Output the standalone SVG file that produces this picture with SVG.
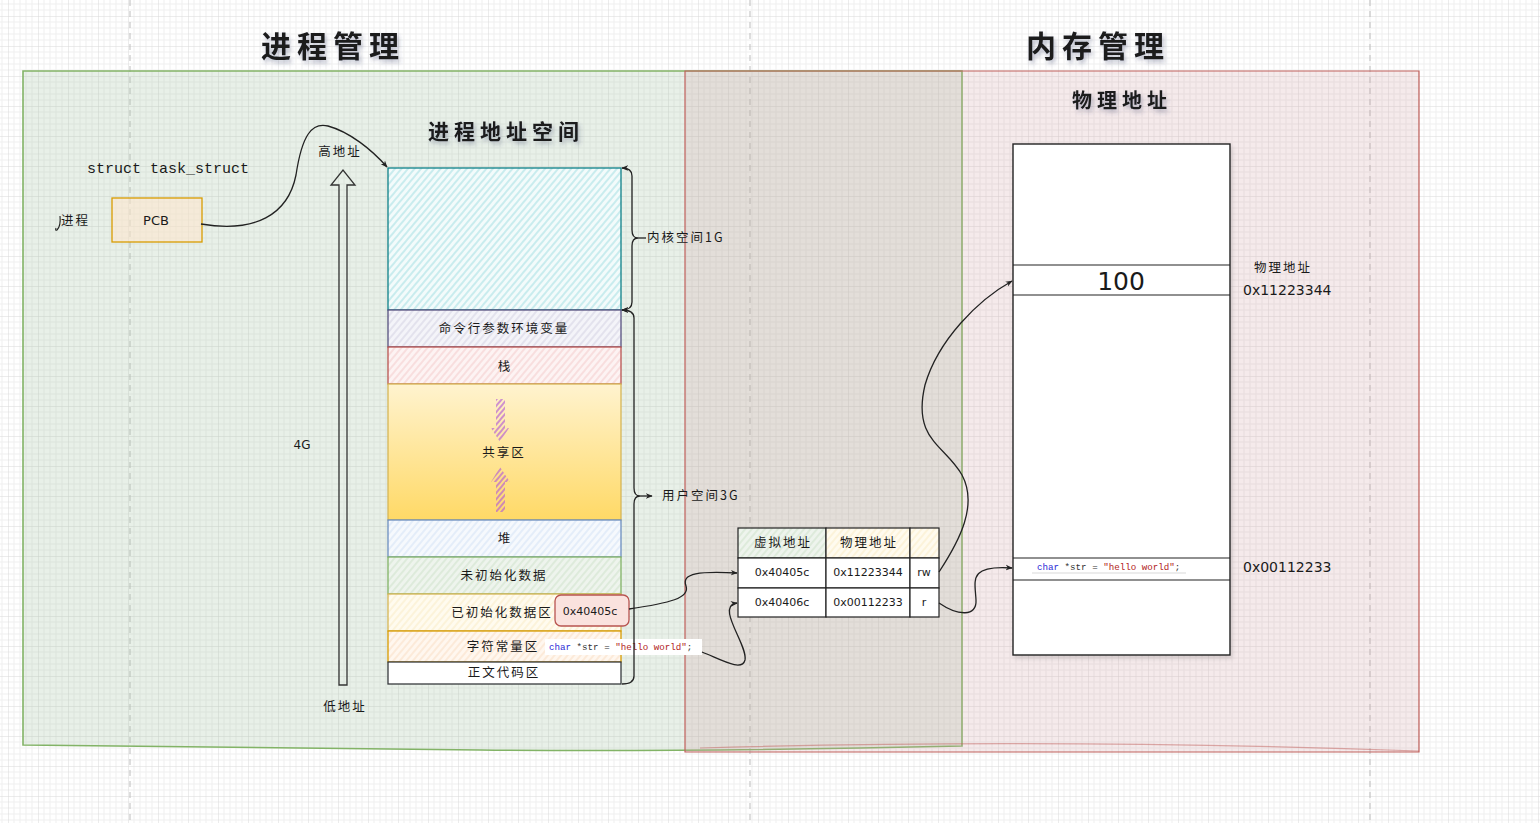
<svg xmlns="http://www.w3.org/2000/svg" width="1540" height="823" viewBox="0 0 1540 823">
<style>
.cjk{font-family:"Noto Sans CJK SC","Noto Sans",sans-serif;fill:#1a1a1a}
.title{font-size:30px;font-weight:700;letter-spacing:6px;filter:url(#tshadow)}
.sub{font-size:20px;font-weight:700;letter-spacing:5px;filter:url(#tshadow)}
.lbl{font-size:12.5px;letter-spacing:2px}
.mono{font-family:"Liberation Mono","DejaVu Sans Mono",monospace}
.sans{font-family:"DejaVu Sans","Liberation Sans",sans-serif;fill:#1a1a1a}
.seg{stroke-width:1.3}
.conn{fill:none;stroke:#222;stroke-width:1.3}
.cell{stroke:#222;stroke-width:1.2}
</style>
<defs>
<pattern id="grid" x="8" y="16" width="30" height="30" patternUnits="userSpaceOnUse">
<path d="M6 0V30M12 0V30M18 0V30M24 0V30M0 6H30M0 12H30M0 18H30M0 24H30" stroke="#efefef" stroke-width="1" fill="none"/>
<path d="M0 0V30M0 0H30" stroke="#d9d9d9" stroke-width="1" fill="none"/>
</pattern>
<pattern id="hCyan" width="5" height="5" patternUnits="userSpaceOnUse" patternTransform="rotate(40)"><rect width="5" height="5" fill="#f3fbfb"/><line x1="1" y1="0" x2="1" y2="5" stroke="#bfe9eb" stroke-width="1.6"/></pattern>
<pattern id="hLav" width="5" height="5" patternUnits="userSpaceOnUse" patternTransform="rotate(40)"><rect width="5" height="5" fill="#f4f4f9"/><line x1="1" y1="0" x2="1" y2="5" stroke="#dcdbe9" stroke-width="1.4"/></pattern>
<pattern id="hRed" width="5" height="5" patternUnits="userSpaceOnUse" patternTransform="rotate(40)"><rect width="5" height="5" fill="#fdf3f3"/><line x1="1" y1="0" x2="1" y2="5" stroke="#f7d6d5" stroke-width="1.4"/></pattern>
<pattern id="hBlue" width="5" height="5" patternUnits="userSpaceOnUse" patternTransform="rotate(40)"><rect width="5" height="5" fill="#f6f9fd"/><line x1="1" y1="0" x2="1" y2="5" stroke="#dde8f8" stroke-width="1.4"/></pattern>
<pattern id="hGreen" width="5" height="5" patternUnits="userSpaceOnUse" patternTransform="rotate(40)"><rect width="5" height="5" fill="#eef4ed"/><line x1="1" y1="0" x2="1" y2="5" stroke="#d7e7d4" stroke-width="1.4"/></pattern>
<pattern id="hYel" width="5" height="5" patternUnits="userSpaceOnUse" patternTransform="rotate(40)"><rect width="5" height="5" fill="#fffbef"/><line x1="1" y1="0" x2="1" y2="5" stroke="#fbf0d2" stroke-width="1.4"/></pattern>
<pattern id="hOra" width="5" height="5" patternUnits="userSpaceOnUse" patternTransform="rotate(40)"><rect width="5" height="5" fill="#fff7ef"/><line x1="1" y1="0" x2="1" y2="5" stroke="#fbe5d0" stroke-width="1.4"/></pattern>
<pattern id="hPur" width="4" height="4" patternUnits="userSpaceOnUse" patternTransform="rotate(40)"><line x1="1" y1="0" x2="1" y2="4" stroke="#b35ed6" stroke-width="1.3"/></pattern>
<linearGradient id="gShare" x1="0" y1="0" x2="0" y2="1"><stop offset="0" stop-color="#fff3cf"/><stop offset="1" stop-color="#ffd966"/></linearGradient>
<filter id="tshadow" x="-10%" y="-30%" width="130%" height="170%"><feDropShadow dx="2" dy="3" stdDeviation="2" flood-color="#3a3f6a" flood-opacity="0.35"/></filter>
<filter id="bshadow" x="-5%" y="-5%" width="110%" height="110%"><feDropShadow dx="2" dy="3" stdDeviation="2" flood-color="#000" flood-opacity="0.12"/></filter>
<marker id="arr" viewBox="0 0 10 10" refX="9" refY="5" markerWidth="7" markerHeight="7" orient="auto-start-reverse" markerUnits="userSpaceOnUse"><path d="M0 1 L10 5 L0 9 L3 5 z" fill="#222"/></marker>
</defs>

<rect width="1540" height="823" fill="#ffffff"/>
<rect width="1540" height="823" fill="url(#grid)"/>
<g id="page-breaks" stroke="#bdbdbd" stroke-width="1" stroke-dasharray="6 5">
<line x1="130" y1="0" x2="130" y2="823"/>
<line x1="750" y1="0" x2="750" y2="823"/>
<line x1="1370" y1="0" x2="1370" y2="823"/>
</g>

<g id="process-mgmt-container">
<path d="M23 71 L962 71 L962 746 Q700 752 480 750 Q250 748 23 745 Z" fill="#9fbf9f" fill-opacity="0.24" stroke="#82b366" stroke-width="1.6"/>
</g>
<g id="memory-mgmt-container">
<path d="M685 71 L1419 71 L1419 752 L685 752 Z" fill="#d0a0a5" fill-opacity="0.22" stroke="#c0605c" stroke-width="1.2"/>
<path d="M700 748 Q1050 738 1419 751" fill="none" stroke="#c0605c" stroke-opacity="0.5" stroke-width="1.2"/>
</g>

<g id="titles">
<text class="cjk title" x="333" y="57" text-anchor="middle">进程管理</text>
<text class="cjk title" x="1098" y="57" text-anchor="middle">内存管理</text>
<text class="cjk sub" x="1122" y="108" text-anchor="middle">物理地址</text>
<text class="cjk sub" x="506" y="139" text-anchor="middle" style="font-size:21px">进程地址空间</text>
</g>

<g id="task-struct-label">
<text class="mono" x="168" y="173" text-anchor="middle" font-size="15" fill="#1a1a1a">struct task_struct</text>
</g>
<g id="process-label">
<path d="M60 216 Q61 226 57 230 Q55 231 56 228" fill="none" stroke="#222" stroke-width="1.1"/>
<text class="cjk lbl" x="61" y="225" font-size="13">进程</text>
</g>
<g id="pcb">
<rect x="112" y="198" width="90" height="44" fill="#ffe6cc" fill-opacity="0.55" stroke="#d79b00" stroke-width="1.3"/>
<text class="sans" x="156" y="225" text-anchor="middle" font-size="13">PCB</text>
</g>

<g id="addr-arrow">
<polygon points="339,685 339,185 331,185 343,170 355,185 347,185 347,685" fill="none" stroke="#333" stroke-width="1.3"/>
<text class="cjk lbl" x="340" y="156" text-anchor="middle" font-size="12">高地址</text>
<text class="cjk lbl" x="345" y="711" text-anchor="middle" font-size="12">低地址</text>
<text class="sans" x="302" y="449" text-anchor="middle" font-size="12" fill="#333">4G</text>
</g>

<g id="address-space">
<g id="seg-kernel"><rect x="388" y="168" width="233" height="142" fill="url(#hCyan)" stroke="#0e8088" class="seg"/></g>
<g id="seg-env"><rect x="388" y="310" width="233" height="37" fill="url(#hLav)" stroke="#56517e" class="seg"/><text class="cjk lbl" x="504" y="333" text-anchor="middle">命令行参数环境变量</text></g>
<g id="seg-stack"><rect x="388" y="347" width="233" height="37" fill="url(#hRed)" stroke="#b85450" class="seg"/><text class="cjk lbl" x="505" y="371" text-anchor="middle">栈</text></g>
<g id="seg-shared"><rect x="388" y="384" width="233" height="136" fill="url(#gShare)" stroke="#d6b656" class="seg"/>
<polygon points="496,399 505,399 505,428 509,428 500,442 491,428 496,428" fill="url(#hPur)"/>
<polygon points="500,467 510,482 505,482 505,512 496,512 496,482 491,482" fill="url(#hPur)"/>
<text class="cjk lbl" x="504" y="457" text-anchor="middle">共享区</text></g>
<g id="seg-heap"><rect x="388" y="520" width="233" height="37" fill="url(#hBlue)" stroke="#6c8ebf" class="seg"/><text class="cjk lbl" x="505" y="543" text-anchor="middle">堆</text></g>
<g id="seg-bss"><rect x="388" y="557" width="233" height="37" fill="url(#hGreen)" stroke="#82b366" class="seg"/><text class="cjk lbl" x="504" y="580" text-anchor="middle">未初始化数据</text></g>
<g id="seg-data"><rect x="388" y="594" width="233" height="37" fill="url(#hYel)" stroke="#d6b656" class="seg"/><text class="cjk lbl" x="502" y="617" text-anchor="middle">已初始化数据区</text></g>
<g id="seg-rodata"><rect x="388" y="631" width="233" height="31" fill="url(#hOra)" stroke="#d79b00" class="seg"/><text class="cjk lbl" x="503" y="651" text-anchor="middle">字符常量区</text></g>
<g id="seg-text"><rect x="388" y="662" width="233" height="22" fill="#ffffff" stroke="#36393d" class="seg"/><text class="cjk lbl" x="504" y="677" text-anchor="middle">正文代码区</text></g>
</g>

<g id="var-addr-box">
<rect x="555" y="595" width="74" height="31" rx="6" fill="#fae2de" stroke="#b85450" stroke-width="1.3"/>
<text class="sans" x="590" y="615" text-anchor="middle" font-size="11">0x40405c</text>
</g>
<g id="code-left">
<rect x="545" y="639" width="157" height="16" fill="#ffffff"/>
<text class="mono" x="549" y="650" font-size="9.2" fill="#333"><tspan fill="#2a2ad6">char</tspan> *str = <tspan fill="#b22222">"hello world"</tspan>;</text>
</g>

<g id="brace-labels">
<text class="cjk lbl" x="647" y="242" font-size="12">内核空间1G</text>
<text class="cjk lbl" x="662" y="500" font-size="12">用户空间3G</text>
</g>

<g id="page-table">
<rect x="738" y="528" width="88" height="30" fill="url(#hGreen)" class="cell"/>
<rect x="826" y="528" width="84" height="30" fill="url(#hYel)" class="cell"/>
<rect x="910" y="528" width="29" height="30" fill="url(#hYel)" class="cell"/>
<rect x="738" y="558" width="88" height="30" fill="#fff" class="cell"/>
<rect x="826" y="558" width="84" height="30" fill="#fff" class="cell"/>
<rect x="910" y="558" width="29" height="30" fill="#fff" class="cell"/>
<rect x="738" y="588" width="88" height="29" fill="#fff" class="cell"/>
<rect x="826" y="588" width="84" height="29" fill="#fff" class="cell"/>
<rect x="910" y="588" width="29" height="29" fill="#fff" class="cell"/>
<text class="cjk lbl" x="783" y="547" text-anchor="middle" font-size="12">虚拟地址</text>
<text class="cjk lbl" x="869" y="547" text-anchor="middle" font-size="12">物理地址</text>
<text class="sans" x="782" y="576" text-anchor="middle" font-size="11">0x40405c</text>
<text class="sans" x="868" y="576" text-anchor="middle" font-size="11">0x11223344</text>
<text class="sans" x="924" y="576" text-anchor="middle" font-size="11">rw</text>
<text class="sans" x="782" y="606" text-anchor="middle" font-size="11">0x40406c</text>
<text class="sans" x="868" y="606" text-anchor="middle" font-size="11">0x00112233</text>
<text class="sans" x="924" y="606" text-anchor="middle" font-size="11">r</text>
</g>

<g id="physical-memory">
<rect x="1013" y="144" width="217" height="511" fill="#ffffff" stroke="#222" stroke-width="1.4" filter="url(#bshadow)"/>
<line x1="1013" y1="265" x2="1230" y2="265" stroke="#222" stroke-width="1.2"/>
<line x1="1013" y1="295" x2="1230" y2="295" stroke="#222" stroke-width="1.2"/>
<line x1="1013" y1="558" x2="1230" y2="558" stroke="#222" stroke-width="1.2"/>
<line x1="1013" y1="580" x2="1230" y2="580" stroke="#222" stroke-width="1.2"/>
<text class="sans" x="1121" y="290" text-anchor="middle" font-size="25">100</text>
<line x1="1032" y1="573" x2="1186" y2="573" stroke="#e6e6e6" stroke-width="1.5"/>
<text class="mono" x="1037" y="570" font-size="9.2" fill="#333"><tspan fill="#2a2ad6">char</tspan> *str = <tspan fill="#b22222">"hello world"</tspan>;</text>
</g>
<g id="phys-labels">
<text class="cjk lbl" x="1283" y="272" text-anchor="middle" font-size="12">物理地址</text>
<text class="sans" x="1243" y="295" font-size="14">0x11223344</text>
<text class="sans" x="1243" y="572" font-size="14">0x00112233</text>
</g>

<g id="connectors">
<path class="conn" d="M201 224 C255 233 288 215 296 175 C302 135 312 122 328 126 C350 132 372 150 387 167" marker-end="url(#arr)"/>
<path class="conn" d="M622 168 Q632 168 632 176 L632 230 Q632 238 638 238 Q632 238 632 246 L632 302 Q632 310 622 310" marker-start="url(#arr)" marker-end="url(#arr)"/>
<path class="conn" d="M638 238 L646 238"/>
<path class="conn" d="M622 310 Q634 310 634 318 L634 488 Q634 496 640 496 Q634 496 634 504 L634 676 Q634 684 622 684" marker-start="url(#arr)"/>
<path class="conn" d="M640 496 L652 496" marker-end="url(#arr)"/>
<path class="conn" d="M629 609 C670 603 690 598 686 586 C681 573 700 571 737 573" marker-end="url(#arr)"/>
<path class="conn" d="M702 652 C722 660 742 672 745 660 C748 645 715 606 737 603" marker-end="url(#arr)"/>
<path class="conn" d="M939 572 C960 540 978 505 962 475 C945 445 912 440 925 385 C938 340 978 300 1012 281" marker-end="url(#arr)"/>
<path class="conn" d="M939 603 C958 616 977 617 976 600 C975 580 968 565 1012 568" marker-end="url(#arr)"/>
</g>
</svg>
